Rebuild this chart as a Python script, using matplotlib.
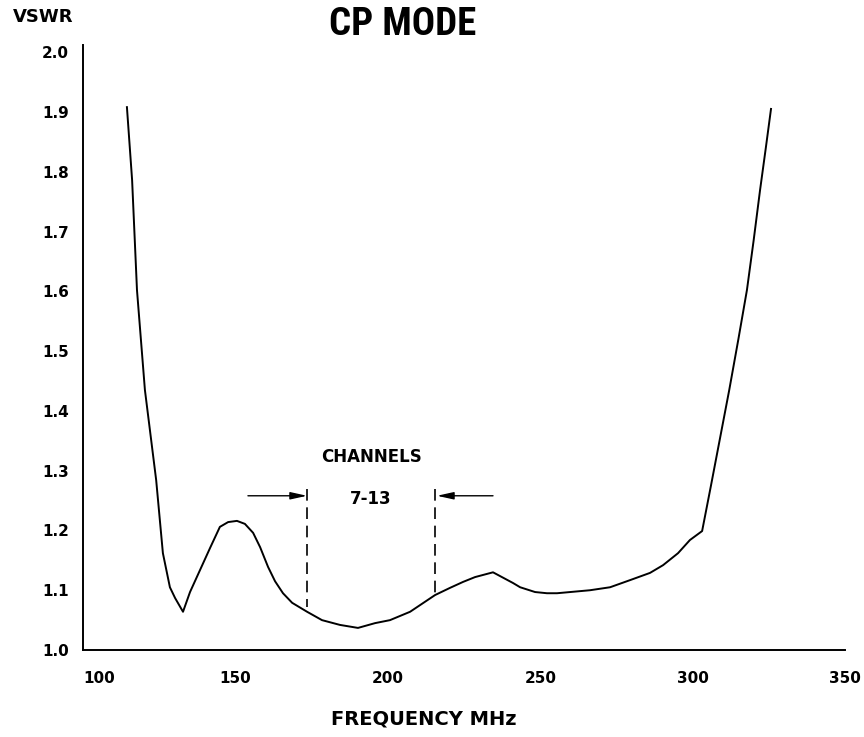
import matplotlib
matplotlib.use("Agg")
import matplotlib.pyplot as plt

# VSWR vs frequency, CP mode
freq_mhz = [114.4, 116.1, 117.7, 120.3, 124.0, 126.2, 128.5, 130.2, 132.8, 135.1,
            138.4, 141.7, 144.9, 147.6, 150.5, 153.1, 155.8, 158.1, 160.7, 163.0,
            165.6, 168.6, 173.5, 178.4, 184.3, 190.2, 195.8, 200.7, 207.3, 215.5,
            220.4, 224.7, 228.6, 234.5, 241.1, 243.4, 248.3, 252.2, 255.5, 266.3,
            272.9, 279.5, 286.0, 290.3, 295.2, 299.1, 303.1, 306.0, 309.0, 312.0,
            315.0, 317.8, 320.0, 322.1, 324.0, 325.7]
vswr = [1.908, 1.786, 1.602, 1.435, 1.284, 1.162, 1.105, 1.087, 1.064, 1.097,
        1.134, 1.171, 1.206, 1.214, 1.216, 1.211, 1.196, 1.172, 1.139, 1.115,
        1.095, 1.079, 1.064, 1.050, 1.042, 1.037, 1.045, 1.050, 1.064, 1.092,
        1.104, 1.114, 1.122, 1.130, 1.112, 1.105, 1.097, 1.095, 1.095, 1.100,
        1.105, 1.117, 1.129, 1.142, 1.162, 1.184, 1.199, 1.275, 1.355, 1.435,
        1.520, 1.602, 1.685, 1.769, 1.840, 1.905]

# TV channels 7-13 band edges
band_lo, band_hi = 173.5, 215.5
band_top = 1.27
band_bottom = [1.072, 1.095]

x_ticks = [100, 150, 200, 250, 300, 350]
y_ticks = [1.0, 1.1, 1.2, 1.3, 1.4, 1.5, 1.6, 1.7, 1.8, 1.9, 2.0]

fig = plt.figure(figsize=(8.64, 7.37), dpi=100)
ax = fig.add_axes([0.0961, 0.118, 0.882, 0.821])

ax.plot(freq_mhz, vswr, color="black", lw=1.4, solid_joinstyle="round")

# dashed band edges
ax.plot([band_lo, band_lo], [band_top, band_bottom[0]], color="black", lw=1.2,
        dashes=(7, 4))
ax.plot([band_hi, band_hi], [band_top, band_bottom[1]], color="black", lw=1.2,
        dashes=(7, 4))

arrow_kw = dict(arrowstyle="-|>,head_length=1.0,head_width=0.22", color="black",
                lw=1.0, shrinkA=0, shrinkB=0)
ax.annotate("", xy=(band_lo, 1.258), xytext=(154.1, 1.258), arrowprops=arrow_kw)
ax.annotate("", xy=(band_hi + 0.6, 1.258), xytext=(234.5, 1.258), arrowprops=arrow_kw)

ax.text(194.5, 1.323, "CHANNELS", ha="center", va="center", fontsize=12,
        fontweight="bold")
ax.text(194.5, 1.253, "7-13", ha="center", va="center", fontsize=12,
        fontweight="bold")

ax.set_xlim(100, 350)
ax.set_ylim(1.0, 2.012)
ax.set_xticks(x_ticks)
ax.set_xticklabels([str(t) for t in x_ticks])
ax.set_yticks(y_ticks)
ax.set_yticklabels([f"{t:.1f}" for t in y_ticks])
ax.tick_params(axis="both", length=0, labelsize=11)
ax.tick_params(axis="x", pad=15)
ax.tick_params(axis="y", pad=10)
for lab in ax.get_xticklabels() + ax.get_yticklabels():
    lab.set_fontweight("bold")
ax.get_xticklabels()[0].set_ha("left")

for side in ["top", "right"]:
    ax.spines[side].set_visible(False)
for side in ["left", "bottom"]:
    ax.spines[side].set_linewidth(1.4)

fig.text(0.05, 0.977, "VSWR", ha="center", va="center", fontsize=13,
         fontweight="bold")
fig.text(0.466, 0.967, "CP MODE", ha="center", va="center", fontsize=28,
         fontweight="heavy",
         family=["Roboto Condensed", "Open Sans Condensed", "Liberation Sans Narrow",
                 "DejaVu Sans"])
fig.text(0.49, 0.024, "FREQUENCY MHz", ha="center", va="center", fontsize=14,
         fontweight="bold")

fig.savefig("out.png", dpi=100, facecolor="white")
